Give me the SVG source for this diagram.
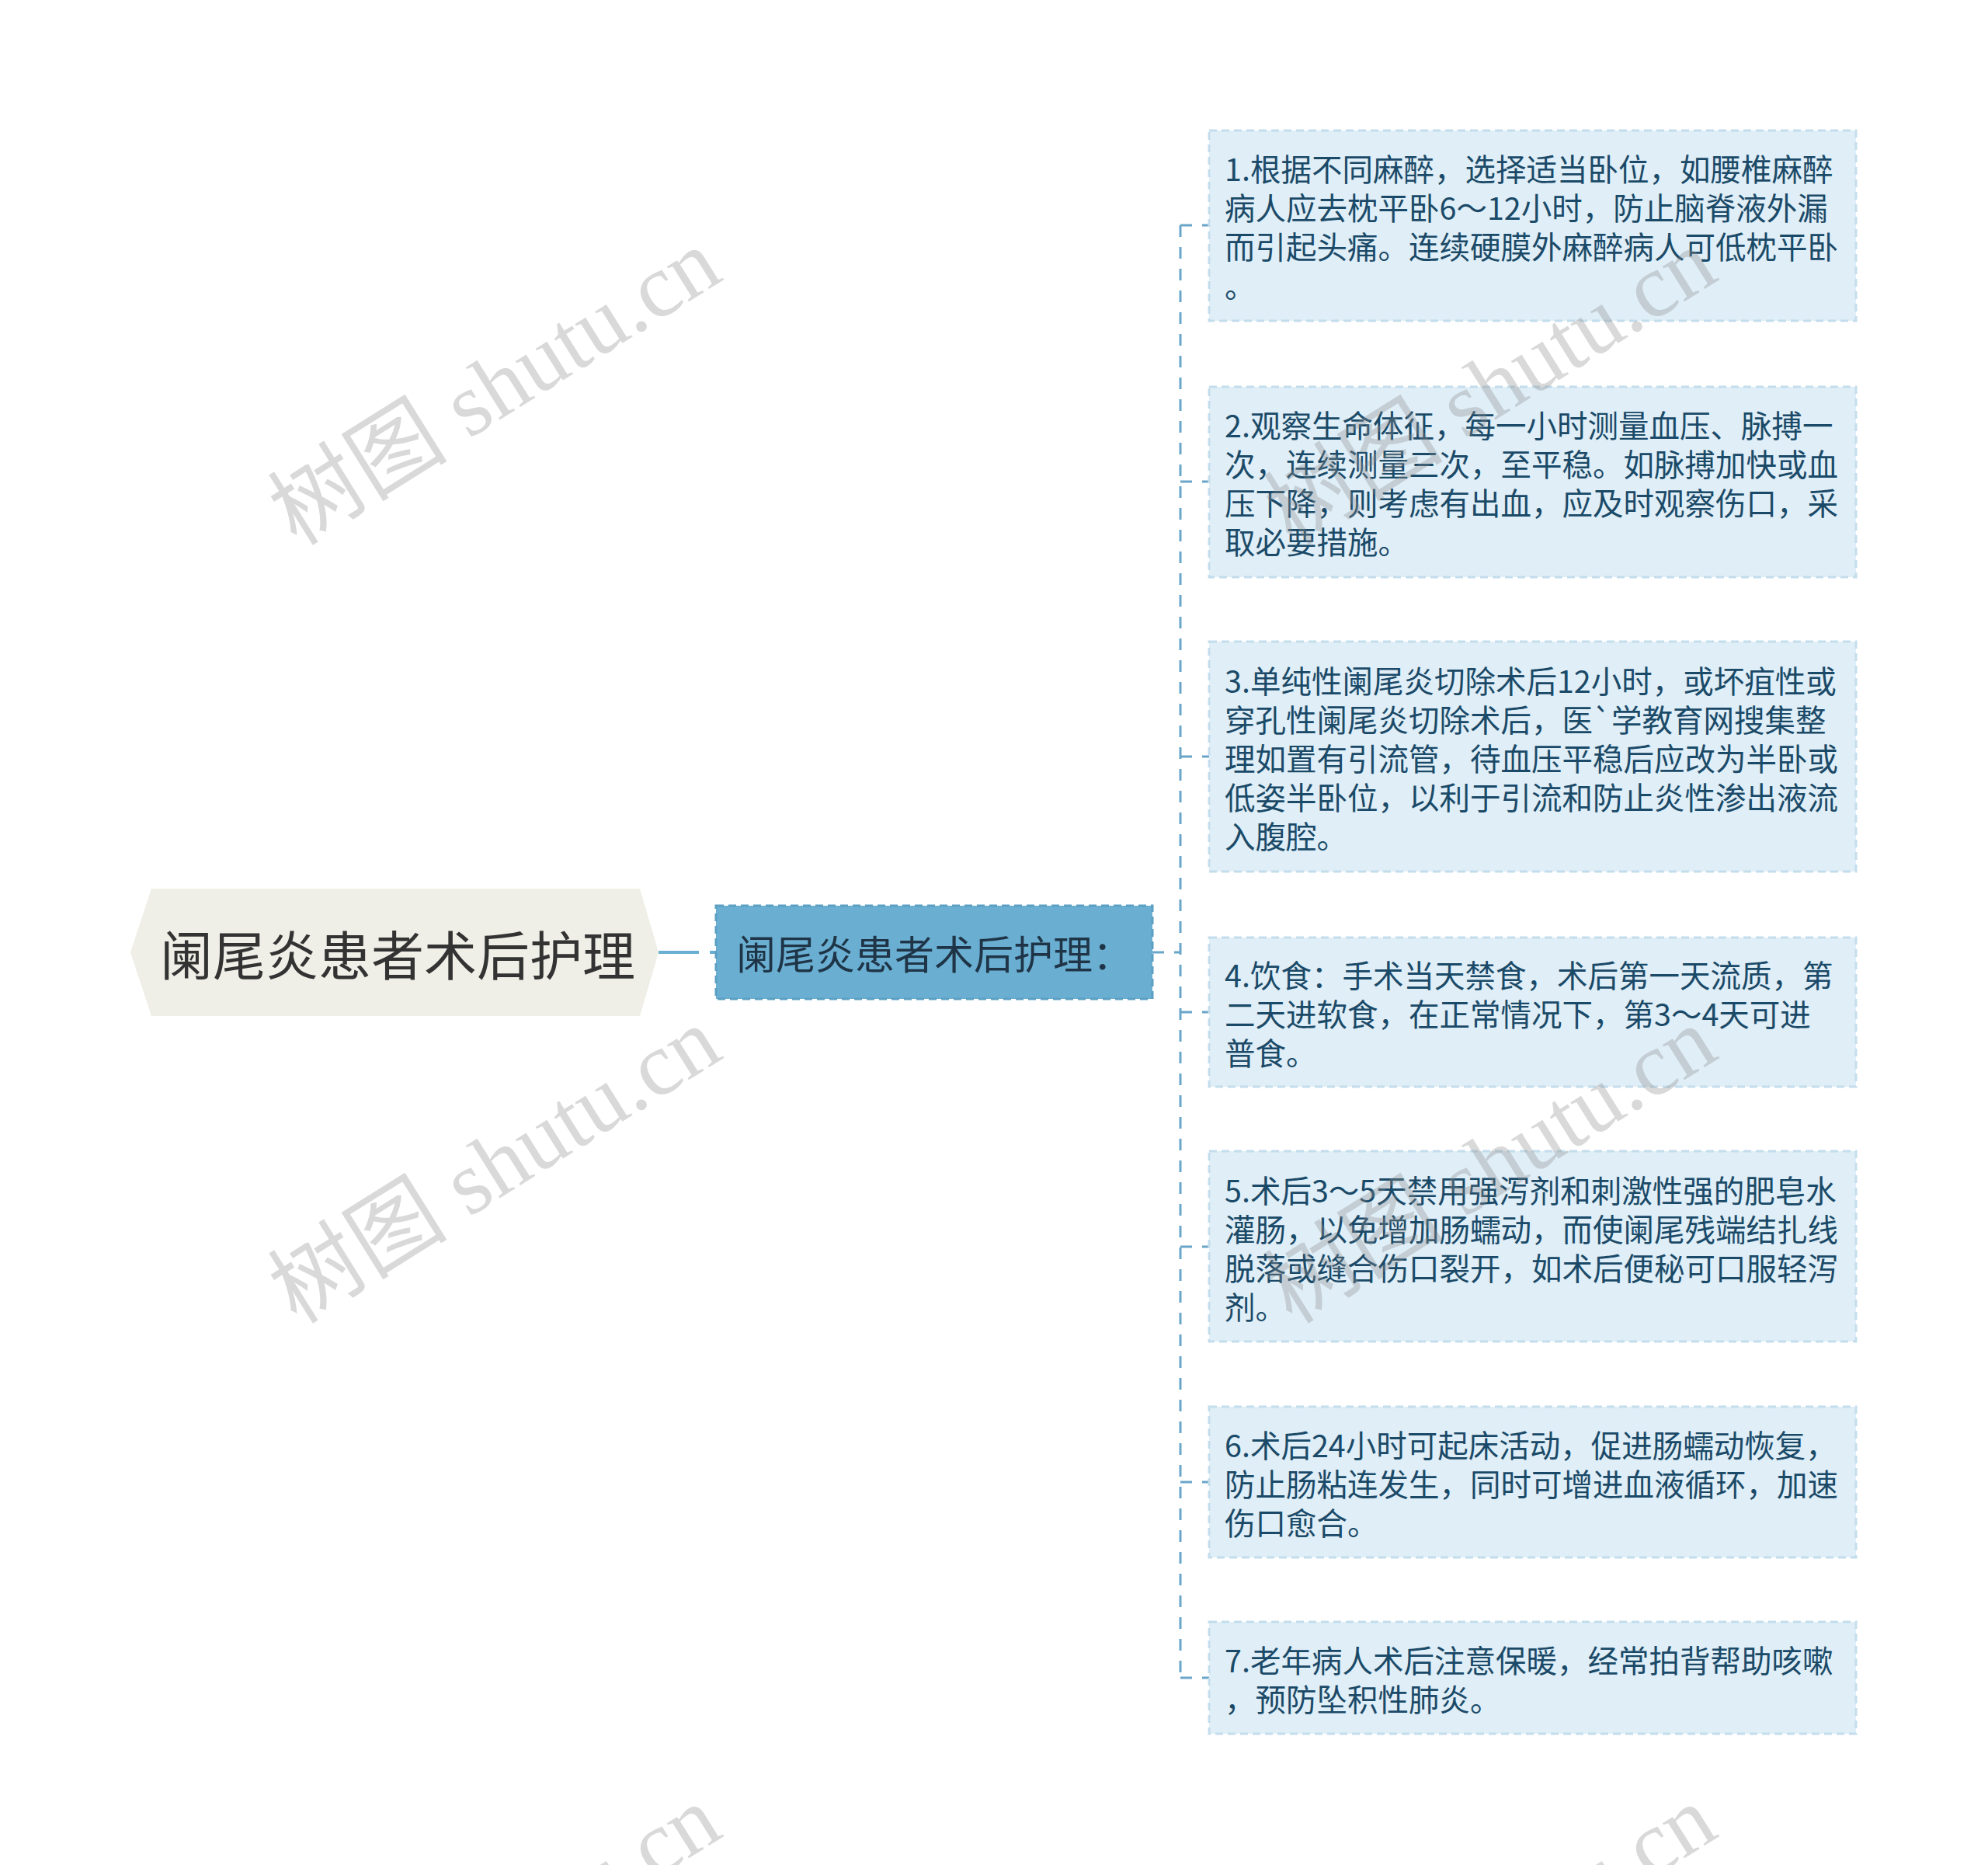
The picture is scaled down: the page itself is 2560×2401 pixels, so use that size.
<svg xmlns="http://www.w3.org/2000/svg" width="2560" height="2401" viewBox="0 0 2560 2401">
<style>
.cjk{font-family:"Noto Sans CJK SC","Noto Sans",sans-serif;}
.child rect{fill:#dfeef7;stroke:#c4ddec;stroke-width:3;stroke-dasharray:10 6;}
.child text{font-size:39.5px;fill:#1b4a68;dominant-baseline:central;}
.conn{fill:none;stroke:#6aa6c9;stroke-width:3;stroke-dasharray:15 13;}
.wm{font-family:"Liberation Serif","Noto Sans CJK SC",serif;font-size:116px;fill:#8c8c8c;fill-opacity:0.33;}
</style>
<rect x="0" y="0" width="2560" height="2401" fill="#ffffff"/>
<g id="connectors">
  <path d="M848,1226 H900" stroke="#6aafd2" stroke-width="4" fill="none"/>
  <path d="M914,1226 H922" stroke="#6aafd2" stroke-width="4" fill="none"/>
  <path class="conn" d="M1484,1226 H1520"/>
  <path class="conn" d="M1520,290 V2160"/>
  <path class="conn" d="M1520,290 H1557"/>
  <path class="conn" d="M1520,620 H1557"/>
  <path class="conn" d="M1520,974 H1557"/>
  <path class="conn" d="M1520,1303 H1557"/>
  <path class="conn" d="M1520,1605 H1557"/>
  <path class="conn" d="M1520,1908 H1557"/>
  <path class="conn" d="M1520,2160 H1557"/>
</g>
<g id="root">
  <polygon points="168,1226 195,1144 824,1144 848,1226 824,1308 195,1308" fill="#efefe7"/>
  <text class="cjk" x="206" y="1226" font-size="68" fill="#333333" dominant-baseline="central">阑尾炎患者术后护理</text>
</g>
<g id="main">
  <rect x="922" y="1166" width="562" height="120" fill="#6aafd2" stroke="#5b9fc2" stroke-width="3" stroke-dasharray="10 6"/>
  <text class="cjk" x="948" y="1226" font-size="51" fill="#1f3547" dominant-baseline="central">阑尾炎患者术后护理：</text>
</g>
<g id="n1" class="child cjk">
  <rect x="1557" y="168" width="833" height="245"/>
  <text x="1577" y="215">1.根据不同麻醉，选择适当卧位，如腰椎麻醉</text>
  <text x="1577" y="265">病人应去枕平卧6～12小时，防止脑脊液外漏</text>
  <text x="1577" y="315">而引起头痛。连续硬膜外麻醉病人可低枕平卧</text>
  <text x="1577" y="365">。</text>
</g>
<g id="n2" class="child cjk">
  <rect x="1557" y="498" width="833" height="245"/>
  <text x="1577" y="545">2.观察生命体征，每一小时测量血压、脉搏一</text>
  <text x="1577" y="595">次，连续测量三次，至平稳。如脉搏加快或血</text>
  <text x="1577" y="645">压下降，则考虑有出血，应及时观察伤口，采</text>
  <text x="1577" y="695">取必要措施。</text>
</g>
<g id="n3" class="child cjk">
  <rect x="1557" y="826" width="833" height="296"/>
  <text x="1577" y="874">3.单纯性阑尾炎切除术后12小时，或坏疽性或</text>
  <text x="1577" y="924">穿孔性阑尾炎切除术后，医`学教育网搜集整</text>
  <text x="1577" y="974">理如置有引流管，待血压平稳后应改为半卧或</text>
  <text x="1577" y="1024">低姿半卧位，以利于引流和防止炎性渗出液流</text>
  <text x="1577" y="1074">入腹腔。</text>
</g>
<g id="n4" class="child cjk">
  <rect x="1557" y="1207" width="833" height="192"/>
  <text x="1577" y="1253">4.饮食：手术当天禁食，术后第一天流质，第</text>
  <text x="1577" y="1303">二天进软食，在正常情况下，第3～4天可进</text>
  <text x="1577" y="1353">普食。</text>
</g>
<g id="n5" class="child cjk">
  <rect x="1557" y="1482" width="833" height="245"/>
  <text x="1577" y="1530">5.术后3～5天禁用强泻剂和刺激性强的肥皂水</text>
  <text x="1577" y="1580">灌肠，以免增加肠蠕动，而使阑尾残端结扎线</text>
  <text x="1577" y="1630">脱落或缝合伤口裂开，如术后便秘可口服轻泻</text>
  <text x="1577" y="1680">剂。</text>
</g>
<g id="n6" class="child cjk">
  <rect x="1557" y="1811" width="833" height="194"/>
  <text x="1577" y="1858">6.术后24小时可起床活动，促进肠蠕动恢复，</text>
  <text x="1577" y="1908">防止肠粘连发生，同时可增进血液循环，加速</text>
  <text x="1577" y="1958">伤口愈合。</text>
</g>
<g id="n7" class="child cjk">
  <rect x="1557" y="2088" width="833" height="144"/>
  <text x="1577" y="2135">7.老年病人术后注意保暖，经常拍背帮助咳嗽</text>
  <text x="1577" y="2185">，预防坠积性肺炎。</text>
</g>
<g id="watermark">
  <text class="wm" transform="translate(382,704) rotate(-32)">树图 shutu.cn</text>
  <text class="wm" transform="translate(1664,704) rotate(-32)">树图 shutu.cn</text>
  <text class="wm" transform="translate(382,1706) rotate(-32)">树图 shutu.cn</text>
  <text class="wm" transform="translate(1664,1706) rotate(-32)">树图 shutu.cn</text>
  <text class="wm" transform="translate(382,2708) rotate(-32)">树图 shutu.cn</text>
  <text class="wm" transform="translate(1664,2708) rotate(-32)">树图 shutu.cn</text>
</g>
</svg>
